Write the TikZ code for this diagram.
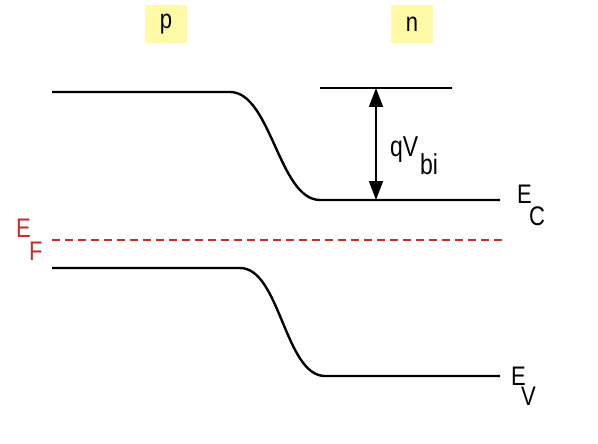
\documentclass[tikz,border=0pt]{standalone}
\usepackage{fontspec}
\setmainfont{Liberation Sans}
\usetikzlibrary{arrows.meta}
\definecolor{ybox}{RGB}{255,250,165}
\definecolor{efred}{RGB}{200,45,40}
\newcommand{\tallt}[1]{\scalebox{1}[1.22]{#1}}
\tikzset{
  band/.style={line width=2.4pt, black},
  lbl/.style={inner sep=0pt, anchor=base west, font=\fontsize{22}{24}\selectfont},
  biglbl/.style={inner sep=0pt, anchor=base west, font=\fontsize{23}{25}\selectfont},
  side/.style={fill=ybox, draw=none, minimum width=42pt, minimum height=38pt, inner sep=0pt, font=\fontsize{22}{24}\selectfont}
}
\begin{document}
\begin{tikzpicture}[x=1pt,y=-1pt]
\useasboundingbox (0,0) rectangle (598,444);
% side labels
\node[side] (p) at (166,24) {\tallt{p}};
\node[side] (n) at (412,24) {\tallt{n}};
% conduction band
\coordinate (c0) at (52,92);
\coordinate (c1) at (230,92);
\coordinate (c2) at (320,200);
\coordinate (c3) at (500,200);
\draw[band] (c0) -- (c1) .. controls (271,92) and (279,200) .. (c2) -- (c3);
% n-side reference line
\coordinate (n0) at (320,88);
\coordinate (n1) at (452,88);
\draw[band] (n0) -- (n1);
% built-in potential arrow
\coordinate (at) at (376,88);
\coordinate (ab) at (376,200);
\draw[line width=1.8pt, {Triangle[length=19pt,width=14pt]}-{Triangle[length=19pt,width=14pt]}] (at) -- (ab);
\node[biglbl] (qv) at (390,157) {\scalebox{1}[1.25]{qV}};
\node[biglbl] (bi) at (420,175) {\scalebox{1}[1.25]{bi}};
% Fermi level
\coordinate (f0) at (52,240);
\coordinate (f1) at (505,240);
\draw[efred, line width=2.2pt, dash pattern=on 8pt off 5pt] (f0) -- (f1);
\node[lbl, text=efred] (ef) at (16,237) {\tallt{E}};
\node[lbl, text=efred] (efs) at (29,260) {\tallt{F}};
% valence band
\coordinate (v0) at (52,268);
\coordinate (v1) at (240,268);
\coordinate (v2) at (325,376);
\coordinate (v3) at (500,376);
\draw[band] (v0) -- (v1) .. controls (280,268) and (285,376) .. (v2) -- (v3);
% band labels
\node[lbl] (ec) at (517,203) {\tallt{E}};
\node[lbl] (ecs) at (529,225) {\tallt{C}};
\node[lbl] (ev) at (511,385) {\tallt{E}};
\node[lbl] (evs) at (521,405) {\tallt{V}};
\end{tikzpicture}
\end{document}
